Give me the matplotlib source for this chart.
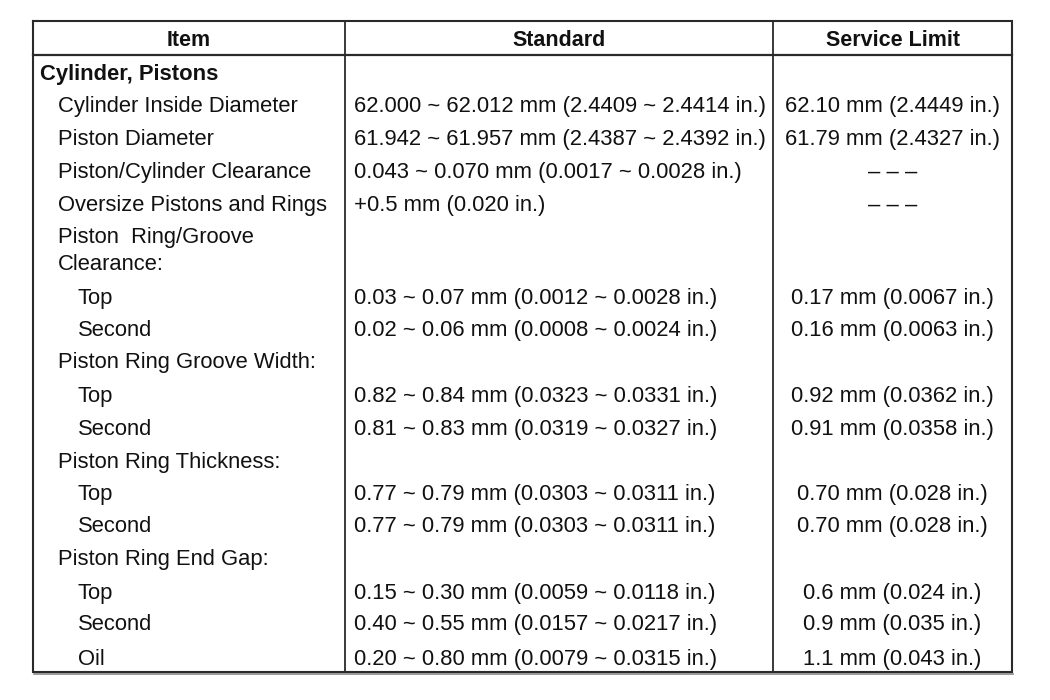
import matplotlib
matplotlib.use("Agg")
import matplotlib.pyplot as plt

# ---- data ----
headers = ["Item", "Standard", "Service Limit"]
items = [
    "Cylinder, Pistons",
    "Cylinder Inside Diameter",
    "Piston Diameter",
    "Piston/Cylinder Clearance",
    "Oversize Pistons and Rings",
    "Piston  Ring/Groove\nClearance:",
    "Top",
    "Second",
    "Piston Ring Groove Width:",
    "Top",
    "Second",
    "Piston Ring Thickness:",
    "Top",
    "Second",
    "Piston Ring End Gap:",
    "Top",
    "Second",
    "Oil",
]
indent = [0, 1, 1, 1, 1, 1, 2, 2, 1, 2, 2, 1, 2, 2, 1, 2, 2, 2]
standard = [
    "",
    "62.000 ~ 62.012 mm (2.4409 ~ 2.4414 in.)",
    "61.942 ~ 61.957 mm (2.4387 ~ 2.4392 in.)",
    "0.043 ~ 0.070 mm (0.0017 ~ 0.0028 in.)",
    "+0.5 mm (0.020 in.)",
    "",
    "0.03 ~ 0.07 mm (0.0012 ~ 0.0028 in.)",
    "0.02 ~ 0.06 mm (0.0008 ~ 0.0024 in.)",
    "",
    "0.82 ~ 0.84 mm (0.0323 ~ 0.0331 in.)",
    "0.81 ~ 0.83 mm (0.0319 ~ 0.0327 in.)",
    "",
    "0.77 ~ 0.79 mm (0.0303 ~ 0.0311 in.)",
    "0.77 ~ 0.79 mm (0.0303 ~ 0.0311 in.)",
    "",
    "0.15 ~ 0.30 mm (0.0059 ~ 0.0118 in.)",
    "0.40 ~ 0.55 mm (0.0157 ~ 0.0217 in.)",
    "0.20 ~ 0.80 mm (0.0079 ~ 0.0315 in.)",
]
service = [
    "",
    "62.10 mm (2.4449 in.)",
    "61.79 mm (2.4327 in.)",
    "– – –",
    "– – –",
    "",
    "0.17 mm (0.0067 in.)",
    "0.16 mm (0.0063 in.)",
    "",
    "0.92 mm (0.0362 in.)",
    "0.91 mm (0.0358 in.)",
    "",
    "0.70 mm (0.028 in.)",
    "0.70 mm (0.028 in.)",
    "",
    "0.6 mm (0.024 in.)",
    "0.9 mm (0.035 in.)",
    "1.1 mm (0.043 in.)",
]

# ---- layout (pixel coordinates) ----
row_y = [72, 104, 137, 170, 203, 251, 296, 328, 360, 394, 427, 460, 492, 524, 557, 591, 622, 657]
x_left, x_c1, x_c2, x_right = 33, 345, 773, 1012
y_top, y_head, y_bot = 21, 55, 672
indent_x = [40, 58, 78]
FS = 15.8
BASE = 8      # center -> baseline offset in pixels
FONT = "Liberation Sans"
LC = "#2a2a2a"
TC = "#111111"

fig = plt.figure(figsize=(10.5, 7), dpi=100)
ax = fig.add_axes([0, 0, 1, 1])
ax.set_xlim(0, 1050)
ax.set_ylim(700, 0)
ax.axis("off")

# borders
ax.plot([x_left, x_right, x_right, x_left, x_left], [y_top, y_top, y_bot, y_bot, y_top],
        color=LC, lw=1.5, solid_joinstyle="miter")
ax.plot([x_left + 1, x_right + 1], [y_bot + 1.5, y_bot + 1.5], color="#888888", lw=1.2)
ax.plot([x_left, x_right], [y_head, y_head], color=LC, lw=1.6)
for xc in (x_c1, x_c2):
    ax.plot([xc, xc], [y_top, y_bot], color=LC, lw=1.3)

# headers
head_x = [(x_left + x_c1) / 2, (x_c1 + x_c2) / 2, (x_c2 + x_right) / 2]
for hx, h in zip(head_x, headers):
    ax.text(hx, 39 + BASE - 1, h, ha="center", va="baseline",
            fontsize=FS - 0.3, fontweight="bold", family=FONT, color=TC)

serv_cx = (x_c2 + x_right) / 2
for i, name in enumerate(items):
    y = row_y[i]
    yb = y + BASE
    weight = "bold" if indent[i] == 0 else "normal"
    if "\n" in name:
        ax.text(indent_x[indent[i]], y, name, ha="left", va="center", fontsize=FS,
                fontweight=weight, family=FONT, color=TC, linespacing=1.4)
    else:
        ax.text(indent_x[indent[i]], yb, name, ha="left", va="baseline", fontsize=FS,
                fontweight=weight, family=FONT, color=TC)
    if standard[i]:
        ax.text(354, yb, standard[i], ha="left", va="baseline", fontsize=FS,
                family=FONT, color=TC)
    if service[i]:
        ax.text(serv_cx, yb, service[i], ha="center", va="baseline", fontsize=FS,
                family=FONT, color=TC)

fig.savefig("out.png", dpi=100, facecolor="white")
